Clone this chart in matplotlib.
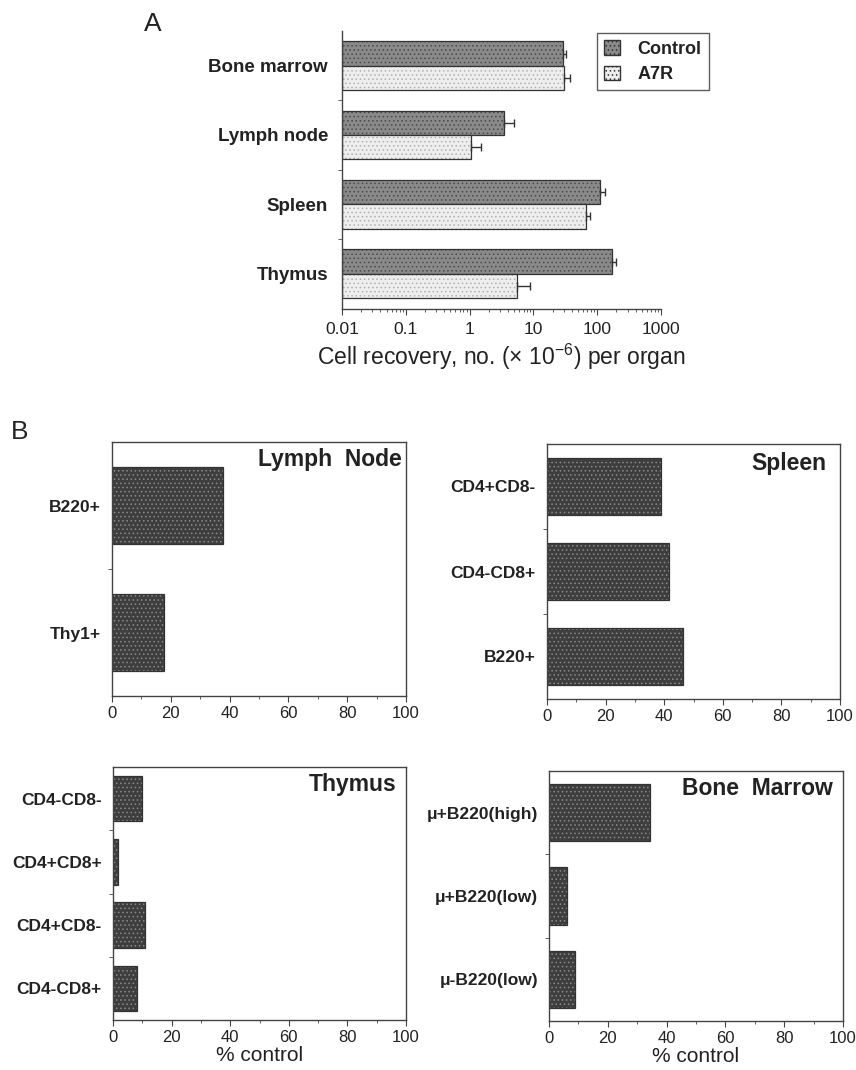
import matplotlib
matplotlib.use("Agg")
import matplotlib.pyplot as plt
from matplotlib.patches import Patch
import numpy as np

plt.rcParams['font.family'] = ['Liberation Sans', 'DejaVu Sans']
plt.rcParams['mathtext.fontset'] = 'custom'
plt.rcParams['mathtext.rm'] = 'Liberation Sans'
plt.rcParams['mathtext.it'] = 'Liberation Sans:italic'
plt.rcParams['mathtext.bf'] = 'Liberation Sans:bold'
plt.rcParams['hatch.linewidth'] = 0.6

# ---------------- data ----------------
organs = ["Bone marrow", "Lymph node", "Spleen", "Thymus"]
control = [29, 3.5, 110, 170]
control_err = [4, 1.4, 24, 28]
a7r = [30, 1.05, 67, 5.5]
a7r_err = [7, 0.45, 10, 3.2]
series_names = ["Control", "A7R"]
log_ticks = [0.01, 0.1, 1, 10, 100, 1000]
log_tick_labels = ["0.01", "0.1", "1", "10", "100", "1000"]

lymph_cats = ["B220+", "Thy1+"]
lymph_vals = [37.8, 17.6]
spleen_cats = ["CD4+CD8-", "CD4-CD8+", "B220+"]
spleen_vals = [38.8, 41.7, 46.5]
thymus_cats = ["CD4-CD8-", "CD4+CD8+", "CD4+CD8-", "CD4-CD8+"]
thymus_vals = [9.9, 1.7, 11.0, 8.3]
bm_cats = ["\u03bc+B220(high)", "\u03bc+B220(low)", "\u03bc-B220(low)"]
bm_vals = [34.3, 6.1, 8.75]
pct_ticks = [0, 20, 40, 60, 80, 100]

TXT = '#222222'
SP = '#444444'

fig = plt.figure(figsize=(8.56, 10.7), dpi=100)

def hbar(ax, y, w, h, left, face, dots):
    ax.barh(y, w, height=h, left=left, color=face, edgecolor=dots, hatch='....', linewidth=0)
    ax.barh(y, w, height=h, left=left, fill=False, edgecolor='#333333', linewidth=0.9)

# ---------------- Panel A ----------------
axA = fig.add_axes([342/856, 1-309/1070, (661-342)/856, (309-31)/1070])
axA.set_xscale('log')
xmin = 0.01
ypos = np.arange(len(organs))
bh = 0.35
c_w = np.array(control) - xmin
a_w = np.array(a7r) - xmin
hbar(axA, ypos - bh/2, c_w, bh, xmin, '#8a8a8a', '#4a4a4a')
hbar(axA, ypos + bh/2, a_w, bh, xmin, '#eeeeee', '#b0b0b0')
axA.errorbar(control, ypos - bh/2, xerr=[np.zeros(len(control)), control_err],
             fmt='none', ecolor='#333333', elinewidth=1.0, capsize=3.2, capthick=1.0)
axA.errorbar(a7r, ypos + bh/2, xerr=[np.zeros(len(a7r)), a7r_err],
             fmt='none', ecolor='#333333', elinewidth=1.0, capsize=3.2, capthick=1.0)
axA.set_xlim(0.01, 1000)
axA.set_ylim(3.51, -0.5)
axA.set_xticks(log_ticks, log_tick_labels)
axA.set_yticks(ypos, organs)
axA.set_yticks([0.5, 1.5, 2.5], minor=True)
axA.tick_params(axis='y', which='major', length=0, pad=10, labelsize=13.5, labelcolor=TXT)
for t in axA.get_yticklabels():
    t.set_fontweight('bold')
axA.tick_params(axis='y', which='minor', length=3, direction='out', color=SP)
axA.tick_params(axis='x', which='major', length=4, direction='out', labelsize=12.5, labelcolor=TXT, color=SP, pad=5)
axA.tick_params(axis='x', which='minor', length=2, direction='out', color=SP)
axA.spines['top'].set_visible(False)
axA.spines['right'].set_visible(False)
for s in ['left', 'bottom']:
    axA.spines[s].set_color(SP)
    axA.spines[s].set_linewidth(1.0)
axA.set_xlabel("Cell recovery, no. (\u00d7 10$^{\u22126}$) per organ", fontsize=16.5, color=TXT, labelpad=4)

handles = [Patch(facecolor='#8a8a8a', edgecolor='#333333', hatch='....', label=series_names[0]),
           Patch(facecolor='#eeeeee', edgecolor='#333333', hatch='....', label=series_names[1])]
leg = fig.legend(handles=handles, loc='upper left', bbox_to_anchor=(597/856, 1-33/1070),
                 bbox_transform=fig.transFigure, borderaxespad=0, fancybox=False, frameon=True,
                 edgecolor='#333333', handlelength=0.85, handleheight=0.85, handletextpad=1.0,
                 borderpad=0.4, labelspacing=0.45, prop={'size': 13, 'weight': 'bold'})
leg.get_frame().set_linewidth(1.0)
for t in leg.get_texts():
    t.set_color(TXT)

fig.text(153/856, 1-24/1070, "A", fontsize=19, ha='center', va='center', color=TXT)
fig.text(20/856, 1-432/1070, "B", fontsize=19, ha='center', va='center', color=TXT)

# ---------------- Panel B ----------------
def panelB(rect, cats, vals, h, title, tx, ty, xlabel=False):
    ax = fig.add_axes(rect)
    y = np.arange(len(cats))
    hbar(ax, y, vals, h, 0, '#3e3e3e', '#8a8a8a')
    ax.set_xlim(0, 100)
    ax.set_ylim(len(cats) - 0.5, -0.5)
    ax.set_xticks(pct_ticks)
    ax.set_xticks(np.arange(10, 100, 20), minor=True)
    ax.set_yticks(y, cats)
    ax.set_yticks(np.arange(0.5, len(cats) - 0.5, 1.0), minor=True)
    ax.tick_params(axis='y', which='major', length=0, pad=8, labelsize=12.5, labelcolor=TXT)
    for t in ax.get_yticklabels():
        t.set_fontweight('bold')
    ax.tick_params(axis='y', which='minor', length=3, direction='out', color=SP)
    ax.tick_params(axis='x', which='major', length=4, direction='out', labelsize=12, labelcolor=TXT, color=SP, pad=3)
    ax.tick_params(axis='x', which='minor', length=2.5, direction='out', color=SP)
    for s in ax.spines.values():
        s.set_color(SP)
        s.set_linewidth(1.0)
    ax.text(tx, ty, title, transform=ax.transAxes, ha='right', va='center',
            fontsize=16.5, fontweight='bold', color=TXT)
    if xlabel:
        ax.set_xlabel("% control", fontsize=15, color=TXT, labelpad=1)
    return ax

panelB([112/856, 1-696/1070, 294/856, 254/1070], lymph_cats, lymph_vals, 0.61, "Lymph  Node", 0.985, 0.93)
panelB([547/856, 1-699/1070, 293/856, 255/1070], spleen_cats, spleen_vals, 0.66, "Spleen", 0.955, 0.925)
panelB([113/856, 1-1020/1070, 293/856, 253/1070], thymus_cats, thymus_vals, 0.72, "Thymus", 0.966, 0.93, xlabel=True)
panelB([549/856, 1-1021/1070, 294/856, 250/1070], bm_cats, bm_vals, 0.69, "Bone  Marrow", 0.966, 0.93, xlabel=True)

fig.savefig("out.png", dpi=100)
